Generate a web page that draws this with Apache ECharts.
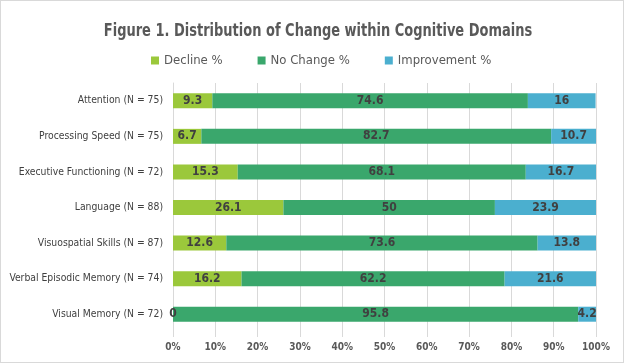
<!DOCTYPE html>
<html><head><meta charset="utf-8">
<script src="https://cdn.jsdelivr.net/npm/echarts@6/dist/echarts.min.js"></script>
<style>html,body{margin:0;padding:0;background:#fff}#c{width:624px;height:363px;box-sizing:border-box;border:1px solid #d9d9d9}</style>
</head><body><div id="c"></div>
<script>
const titleText = 'Figure 1. Distribution of Change within Cognitive Domains';
const categories = ["Attention (N = 75)","Processing Speed (N = 75)","Executive Functioning (N = 72)","Language (N = 88)","Visuospatial Skills (N = 87)","Verbal Episodic Memory (N = 74)","Visual Memory (N = 72)"];
const decline = [9.3, 6.7, 15.3, 26.1, 12.6, 16.2, 0];
const noChange = [74.6, 82.7, 68.1, 50, 73.6, 62.2, 95.8];
const improvement = [16, 10.7, 16.7, 23.9, 13.8, 21.6, 4.2];
const xTicks = [0,10,20,30,40,50,60,70,80,90,100];

const FONT = '"DejaVu Sans Condensed","Liberation Sans Narrow","Arial Narrow",sans-serif';
const chart = echarts.init(document.getElementById('c'));
const lbl = {show:true, position:'inside', color:'#404040', fontFamily:FONT, fontSize:12, fontWeight:'bold'};
function mk(name, data, color){
  return {name, type:'bar', stack:'t', data, barWidth:15, itemStyle:{color}, label:lbl, emphasis:{disabled:true}};
}
chart.setOption({
  animation:false,
  graphic:[{type:'text', x:317, y:31, scaleX:0.85, scaleY:1, silent:true,
    style:{text:titleText, textAlign:'center', textVerticalAlign:'middle',
      fontFamily:FONT, fontSize:17, fontWeight:'bold', fill:'#595959'}}],
  legend:{top:48, left:145, itemWidth:8, itemHeight:8, itemGap:35, icon:'rect',
    textStyle:{fontFamily:FONT, fontSize:13, color:'#595959'},
    data:['Decline %','No Change %','Improvement %']},
  grid:{left:172, right:27, top:82, bottom:30, outerBoundsMode:'none', containLabel:false},
  xAxis:{type:'value', min:0, max:100, interval:10,
    axisLabel:{formatter:v=>xTicks.includes(v)?v+'%':'', fontFamily:FONT, fontSize:10, fontWeight:'bold', color:'#595959', margin:10},
    splitLine:{lineStyle:{color:'#d9d9d9'}}, axisLine:{show:false},
    axisTick:{show:true, length:5, lineStyle:{color:'#d9d9d9'}}},
  yAxis:{type:'category', inverse:true, data:categories,
    axisLabel:{fontFamily:FONT, fontSize:10.3, color:'#404040', margin:10},
    axisLine:{lineStyle:{color:'#d9d9d9'}}, axisTick:{show:false}},
  series:[mk('Decline %', decline, '#9BC83B'), mk('No Change %', noChange, '#3AA76C'), mk('Improvement %', improvement, '#4BAFCF')]
});
</script></body></html>
